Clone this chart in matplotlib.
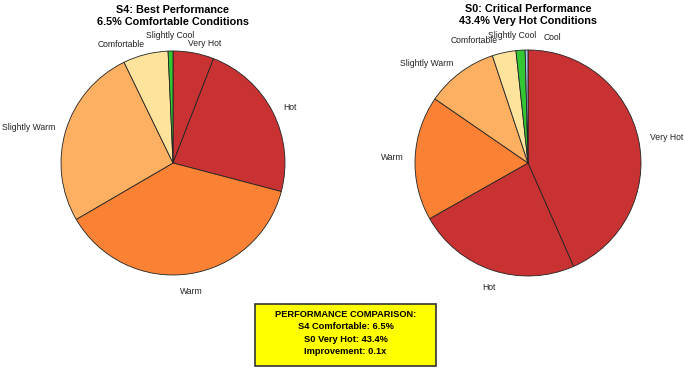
import matplotlib.pyplot as plt
from matplotlib.patches import Rectangle

plt.rcParams['font.family'] = ['Liberation Sans', 'DejaVu Sans']

# S4 scenario (best)
s4_labels = ["Very Hot", "Hot", "Warm", "Slightly Warm", "Comfortable", "Slightly Cool"]
s4_values = [5.9, 23.2, 37.5, 26.2, 6.5, 0.7]

# S0 scenario (critical)
s0_labels = ["Very Hot", "Hot", "Warm", "Slightly Warm", "Comfortable", "Slightly Cool", "Cool"]
s0_values = [43.4, 23.4, 17.8, 10.3, 3.4, 1.3, 0.4]

colour_map = {
    "Very Hot": "#c93232",
    "Hot": "#c93232",
    "Warm": "#fb8234",
    "Slightly Warm": "#fdb062",
    "Comfortable": "#fde39b",
    "Slightly Cool": "#33c733",
    "Cool": "#a9c4e4",
}

titles = ["S4: Best Performance\n6.5% Comfortable Conditions",
          "S0: Critical Performance\n43.4% Very Hot Conditions"]

# some labels get moved by hand (x, y, ha) in pie units
s4_nudge = {"Slightly Cool": (-0.03, 1.14, 'center'),
            "Comfortable": (-0.25, 1.06, 'right'),
            "Very Hot": (0.13, 1.07, 'left'),
            "Warm": (0.16, -1.15, 'center')}
s0_nudge = {"Comfortable": (-0.27, 1.08, 'right'),
            "Slightly Cool": (-0.14, 1.13, 'center'),
            "Cool": (0.14, 1.11, 'left'),
            "Hot": (-0.35, -1.10, 'center')}

W, H = 685, 368
fig = plt.figure(figsize=(W / 100, H / 100), dpi=100)


def make_axes(cx, cy, r):
    half = 1.25 * r
    ax = fig.add_axes([(cx - half) / W, (H - cy - half) / H, 2 * half / W, 2 * half / H])
    ax.set_xlim(-1.25, 1.25)
    ax.set_ylim(-1.25, 1.25)
    ax.set_aspect('equal')
    ax.axis('off')
    return ax


def draw_pie(ax, labels, values, title, nudge):
    wedges, texts = ax.pie(values, labels=labels, colors=[colour_map[l] for l in labels],
                           startangle=90, counterclock=False, labeldistance=1.1,
                           wedgeprops=dict(edgecolor='#222222', linewidth=0.6),
                           textprops=dict(fontsize=6.2, color='#222222'))
    for t in texts:
        if t.get_text() in nudge:
            x, y, ha = nudge[t.get_text()]
            t.set_position((x, y))
            t.set_ha(ha)
    ax.text(0, 1.21, title, ha='center', va='bottom', fontsize=7.8,
            fontweight='bold', linespacing=1.25)


ax1 = make_axes(173, 163, 112)
draw_pie(ax1, s4_labels, s4_values, titles[0], s4_nudge)

ax2 = make_axes(528, 163, 113)
draw_pie(ax2, s0_labels, s0_values, titles[1], s0_nudge)

# summary box
box_ax = fig.add_axes([0, 0, 1, 1])
box_ax.set_xlim(0, W)
box_ax.set_ylim(H, 0)
box_ax.axis('off')
box_ax.add_patch(Rectangle((255, 304), 181, 62, facecolor='#ffff00',
                           edgecolor='#333333', linewidth=1.2))
box_lines = ["PERFORMANCE COMPARISON:", "S4 Comfortable: 6.5%",
             "S0 Very Hot: 43.4%", "Improvement: 0.1x"]
box_ax.text(345.5, 333, "\n".join(box_lines), ha='center', va='center',
            fontsize=6.7, fontweight='bold', linespacing=1.45)

fig.savefig('out.png', dpi=100)
